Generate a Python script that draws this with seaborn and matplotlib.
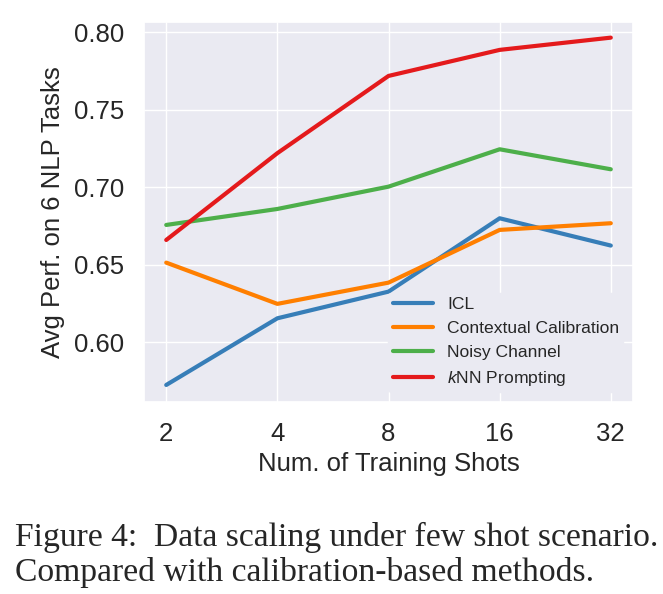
import matplotlib
matplotlib.use("Agg")
import matplotlib.pyplot as plt
import pandas as pd
import seaborn as sns

shots = ["2", "4", "8", "16", "32"]
icl = [0.5725, 0.6155, 0.6327, 0.6800, 0.6624]
calib = [0.6514, 0.6248, 0.6385, 0.6725, 0.6768]
noisy = [0.6757, 0.6860, 0.7004, 0.7245, 0.7116]
knn = [0.6660, 0.7220, 0.7718, 0.7886, 0.7965]
methods = ["ICL", "Contextual Calibration", "Noisy Channel", "$k$NN Prompting"]
colors = ["#377eb8", "#ff7f00", "#4daf4a", "#e41a1c"]

sns.set_theme(style="darkgrid")
plt.rcParams["font.family"] = ["Liberation Sans", "DejaVu Sans"]
plt.rcParams["mathtext.fontset"] = "custom"
plt.rcParams["mathtext.it"] = "Liberation Sans:italic"
plt.rcParams["mathtext.rm"] = "Liberation Sans"

rows = []
for name, vals in zip(methods, [icl, calib, noisy, knn]):
    for s, v in zip(shots, vals):
        rows.append({"shots": s, "perf": v, "method": name})
df = pd.DataFrame(rows)

fig = plt.figure(figsize=(6.63, 5.94), dpi=100)
ax = fig.add_axes([0.2172, 0.3232, 0.7376, 0.6398])

sns.lineplot(data=df, x="shots", y="perf", hue="method", hue_order=methods,
             palette=colors, linewidth=3, ax=ax, sort=False)

ax.set_ylim(0.5615, 0.8066)
ax.set_yticks([0.60, 0.65, 0.70, 0.75, 0.80])
ax.set_yticklabels(["0.60", "0.65", "0.70", "0.75", "0.80"])
ax.tick_params(axis="both", labelsize=18.5, pad=8.5)
ax.set_xlabel("Num. of Training Shots", fontsize=18.5, labelpad=4)
ax.set_ylabel("Avg Perf. on 6 NLP Tasks", fontsize=18.5, labelpad=6)

# legend box same colour as the axes, no visible edge
leg = ax.legend(loc="lower right", fontsize=12.6, handlelength=2.3, borderaxespad=0.55,
                borderpad=0.25, labelspacing=0.5, frameon=True, framealpha=1)
leg.get_frame().set_facecolor("#eaeaf2")
leg.get_frame().set_edgecolor("#eaeaf2")
for line in leg.get_lines():
    line.set_linewidth(3)

fig.text(0.022, 0.0808, "Figure 4:  Data scaling under few shot scenario.",
         family="Liberation Serif", fontsize=24.2, ha="left", va="baseline")
fig.text(0.022, 0.0219, "Compared with calibration-based methods.",
         family="Liberation Serif", fontsize=24.2, ha="left", va="baseline")

fig.savefig("out.png", dpi=100)
